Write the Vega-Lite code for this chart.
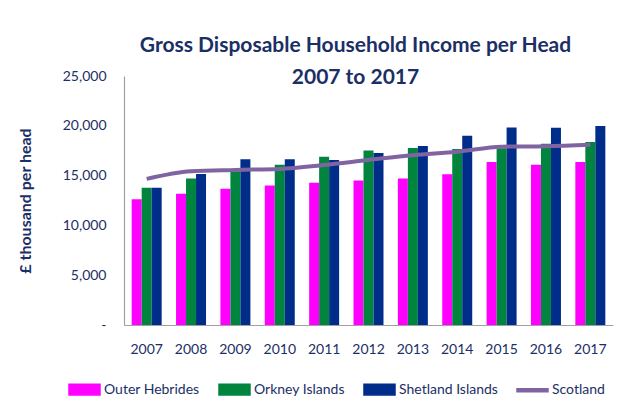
{
  "$schema": "https://vega.github.io/schema/vega-lite/v6.json",
  "width": 489,
  "height": 249,
  "autosize": {"type": "none"},
  "padding": {"left": 124, "top": 76, "right": 14, "bottom": 85},
  "background": "white",
  "config": {
    "view": {"stroke": null},
    "font": "Lato",
    "text": {"font": "Lato"},
    "axis": {"labelFont": "Lato", "titleFont": "Lato", "labelColor": "#1B2F66", "titleColor": "#1B2F66", "domainColor": "#A0A0A0", "domainWidth": 1.2, "grid": false, "ticks": false, "tickSize": 0},
    "legend": {"labelFont": "Lato", "labelColor": "#1B2F66"}
  },
  "title": {
    "text": ["Gross Disposable Household Income per Head", "2007 to 2017"],
    "font": "Lato",
    "fontSize": 21,
    "fontWeight": "bold",
    "color": "#1B2F66",
    "lineHeight": 32,
    "anchor": "middle",
    "dx": -13,
    "offset": -19
  },
  "data": {
    "values": [
      {"year": "2007", "region": "Outer Hebrides", "value": 12630},
      {"year": "2007", "region": "Orkney Islands", "value": 13770},
      {"year": "2007", "region": "Shetland Islands", "value": 13770},
      {"year": "2007", "region": "Scotland", "value": 14670},
      {"year": "2008", "region": "Outer Hebrides", "value": 13170},
      {"year": "2008", "region": "Orkney Islands", "value": 14700},
      {"year": "2008", "region": "Shetland Islands", "value": 15170},
      {"year": "2008", "region": "Scotland", "value": 15430},
      {"year": "2009", "region": "Outer Hebrides", "value": 13670},
      {"year": "2009", "region": "Orkney Islands", "value": 15430},
      {"year": "2009", "region": "Shetland Islands", "value": 16630},
      {"year": "2009", "region": "Scotland", "value": 15570},
      {"year": "2010", "region": "Outer Hebrides", "value": 14000},
      {"year": "2010", "region": "Orkney Islands", "value": 16100},
      {"year": "2010", "region": "Shetland Islands", "value": 16630},
      {"year": "2010", "region": "Scotland", "value": 15670},
      {"year": "2011", "region": "Outer Hebrides", "value": 14270},
      {"year": "2011", "region": "Orkney Islands", "value": 16900},
      {"year": "2011", "region": "Shetland Islands", "value": 16570},
      {"year": "2011", "region": "Scotland", "value": 16070},
      {"year": "2012", "region": "Outer Hebrides", "value": 14500},
      {"year": "2012", "region": "Orkney Islands", "value": 17530},
      {"year": "2012", "region": "Shetland Islands", "value": 17270},
      {"year": "2012", "region": "Scotland", "value": 16570},
      {"year": "2013", "region": "Outer Hebrides", "value": 14700},
      {"year": "2013", "region": "Orkney Islands", "value": 17770},
      {"year": "2013", "region": "Shetland Islands", "value": 17970},
      {"year": "2013", "region": "Scotland", "value": 17050},
      {"year": "2014", "region": "Outer Hebrides", "value": 15130},
      {"year": "2014", "region": "Orkney Islands", "value": 17670},
      {"year": "2014", "region": "Shetland Islands", "value": 19000},
      {"year": "2014", "region": "Scotland", "value": 17400},
      {"year": "2015", "region": "Outer Hebrides", "value": 16370},
      {"year": "2015", "region": "Orkney Islands", "value": 17750},
      {"year": "2015", "region": "Shetland Islands", "value": 19830},
      {"year": "2015", "region": "Scotland", "value": 17900},
      {"year": "2016", "region": "Outer Hebrides", "value": 16100},
      {"year": "2016", "region": "Orkney Islands", "value": 18200},
      {"year": "2016", "region": "Shetland Islands", "value": 19800},
      {"year": "2016", "region": "Scotland", "value": 17950},
      {"year": "2017", "region": "Outer Hebrides", "value": 16370},
      {"year": "2017", "region": "Orkney Islands", "value": 18370},
      {"year": "2017", "region": "Shetland Islands", "value": 19970},
      {"year": "2017", "region": "Scotland", "value": 18100}
    ]
  },
  "encoding": {
    "x": {
      "field": "year", "type": "nominal",
      "scale": {"paddingInner": 0.324, "paddingOuter": 0.173},
      "axis": {"title": null, "labelAngle": 0, "labelFontSize": 14, "labelPadding": 17}
    },
    "y": {
      "field": "value", "type": "quantitative",
      "scale": {"domain": [0, 25000], "nice": false},
      "axis": {
        "title": "£ thousand per head", "titleFontSize": 16, "titleFontWeight": "bold", "titlePadding": 29,
        "values": [0, 5000, 10000, 15000, 20000, 25000],
        "labelExpr": "datum.value == 0 ? '-\u2007' : format(datum.value, ',')",
        "labelFontSize": 14, "labelPadding": 18
      }
    },
    "color": {
      "field": "region", "type": "nominal",
      "scale": {
        "domain": ["Outer Hebrides", "Orkney Islands", "Shetland Islands", "Scotland"],
        "range": ["#FF00FF", "#00843E", "#002D8A", "#8064A2"]
      },
      "legend": {
        "title": null, "orient": "none", "direction": "horizontal",
        "legendX": -56, "legendY": 297,
        "labelFontSize": 14, "labelOffset": 3, "columnPadding": 16,
        "symbolSize": 961,
        "encode": {
          "symbols": {
            "update": {
              "shape": {"signal": "datum.label == 'Scotland' ? 'M-1,-0.1H1V0.1H-1Z' : 'M-1,-0.345H1V0.345H-1Z'"},
              "fill": {"scale": "color", "field": "value"},
              "stroke": {"value": null},
              "fillOpacity": {"value": 1}
            }
          }
        }
      }
    }
  },
  "layer": [
    {
      "transform": [{"filter": "datum.region != 'Scotland'"}],
      "mark": {"type": "bar"},
      "encoding": {
        "xOffset": {"field": "region", "type": "nominal", "sort": ["Outer Hebrides", "Orkney Islands", "Shetland Islands"], "scale": {"paddingInner": 0, "paddingOuter": 0}}
      }
    },
    {
      "transform": [{"filter": "datum.region == 'Scotland'"}],
      "mark": {"type": "line", "strokeWidth": 4, "interpolate": "monotone"},
      "encoding": {}
    }
  ]
}
